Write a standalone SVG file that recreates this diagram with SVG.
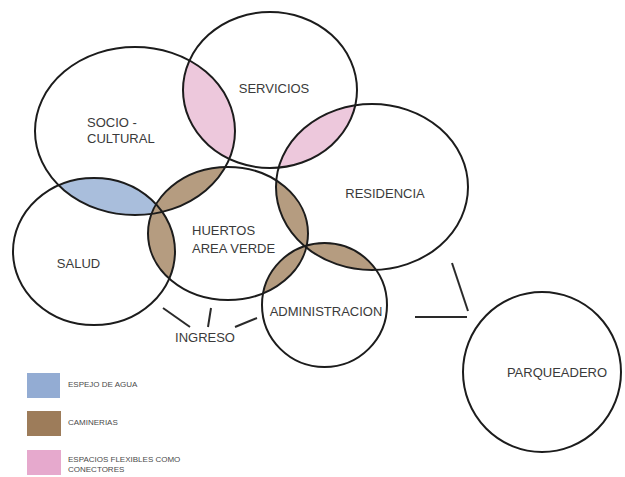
<svg xmlns="http://www.w3.org/2000/svg" width="625" height="477" viewBox="0 0 625 477">
<style>
.c{fill:none;stroke:#1c1c1c;stroke-width:2}
.t{font-family:"Liberation Sans",Arial,sans-serif;font-size:13px;fill:#3a3a3a}
.lg{font-family:"Liberation Sans",Arial,sans-serif;font-size:8px;fill:#4a4a4a}
.blue{fill:#a9bedc}
.brown{fill:#b59c80}
.pink{fill:#edc8dc}
.ln{stroke:#2a2a2a;stroke-width:2;fill:none}
</style>
<defs>
<clipPath id="cSocio"><ellipse cx="135" cy="131" rx="100" ry="84"/></clipPath>
<clipPath id="cServ"><ellipse cx="270" cy="90" rx="87" ry="78"/></clipPath>
<clipPath id="cRes"><ellipse cx="372" cy="187" rx="96" ry="83"/></clipPath>
<clipPath id="cHuer"><ellipse cx="228" cy="233.5" rx="80" ry="66.5"/></clipPath>
<clipPath id="cSalud"><ellipse cx="94" cy="251.5" rx="81" ry="73.5"/></clipPath>
<clipPath id="cAdm"><ellipse cx="324.5" cy="305" rx="62.5" ry="62"/></clipPath>
</defs>
<rect width="625" height="477" fill="#ffffff"/>
<g id="overlaps">
<g clip-path="url(#cSocio)"><ellipse class="pink" cx="270" cy="90" rx="87" ry="78"/></g>
<g clip-path="url(#cServ)"><ellipse class="pink" cx="372" cy="187" rx="96" ry="83"/></g>
<g clip-path="url(#cSocio)"><ellipse class="blue" cx="94" cy="251.5" rx="81" ry="73.5"/></g>
<g clip-path="url(#cSocio)"><ellipse class="brown" cx="228" cy="233.5" rx="80" ry="66.5"/></g>
<g clip-path="url(#cSalud)"><ellipse class="brown" cx="228" cy="233.5" rx="80" ry="66.5"/></g>
<g clip-path="url(#cRes)"><ellipse class="brown" cx="228" cy="233.5" rx="80" ry="66.5"/></g>
<g clip-path="url(#cRes)"><ellipse class="brown" cx="324.5" cy="305" rx="62.5" ry="62"/></g>
<g clip-path="url(#cHuer)"><ellipse class="brown" cx="324.5" cy="305" rx="62.5" ry="62"/></g>
</g>
<g id="socio-cultural">
<ellipse class="c" cx="135" cy="131" rx="100" ry="84"/>
<text class="t" x="87" y="127" font-size="12.5">SOCIO -</text>
<text class="t" x="87" y="143" font-size="12.5">CULTURAL</text>
</g>
<g id="servicios">
<ellipse class="c" cx="270" cy="90" rx="87" ry="78"/>
<text class="t" x="274" y="93" text-anchor="middle">SERVICIOS</text>
</g>
<g id="residencia">
<ellipse class="c" cx="372" cy="187" rx="96" ry="83"/>
<text class="t" x="385" y="198" text-anchor="middle">RESIDENCIA</text>
</g>
<g id="huertos">
<ellipse class="c" cx="228" cy="233.5" rx="80" ry="66.5"/>
<text class="t" x="192" y="235">HUERTOS</text>
<text class="t" x="192" y="253">AREA VERDE</text>
</g>
<g id="salud">
<ellipse class="c" cx="94" cy="251.5" rx="81" ry="73.5"/>
<text class="t" x="78.5" y="268" text-anchor="middle">SALUD</text>
</g>
<g id="administracion">
<ellipse class="c" cx="324.5" cy="305" rx="62.5" ry="62"/>
<text class="t" x="326" y="316" text-anchor="middle">ADMINISTRACION</text>
</g>
<g id="parqueadero">
<ellipse class="c" cx="542" cy="372" rx="79" ry="80"/>
<text class="t" x="557" y="377" text-anchor="middle">PARQUEADERO</text>
</g>
<g id="ingreso">
<text class="t" x="205" y="342" text-anchor="middle">INGRESO</text>
</g>
<g id="connectors">
<line class="ln" x1="163" y1="308" x2="190" y2="327"/>
<line class="ln" x1="211" y1="308" x2="208" y2="327"/>
<line class="ln" x1="235" y1="327" x2="257" y2="318"/>
<line class="ln" x1="452" y1="263" x2="468" y2="311"/>
<line class="ln" x1="415" y1="317" x2="467" y2="317"/>
</g>
<g id="legend">
<rect x="27" y="373" width="33" height="25" style="fill:#93acd3"/>
<text class="lg" x="68" y="387">ESPEJO DE AGUA</text>
<rect x="27" y="411" width="34" height="25" style="fill:#9d7c5a"/>
<text class="lg" x="68" y="425">CAMINERIAS</text>
<rect x="27" y="450" width="34" height="25" style="fill:#e6a9cd"/>
<text class="lg" x="68" y="462">ESPACIOS FLEXIBLES COMO</text>
<text class="lg" x="68" y="472">CONECTORES</text>
</g>
</svg>
